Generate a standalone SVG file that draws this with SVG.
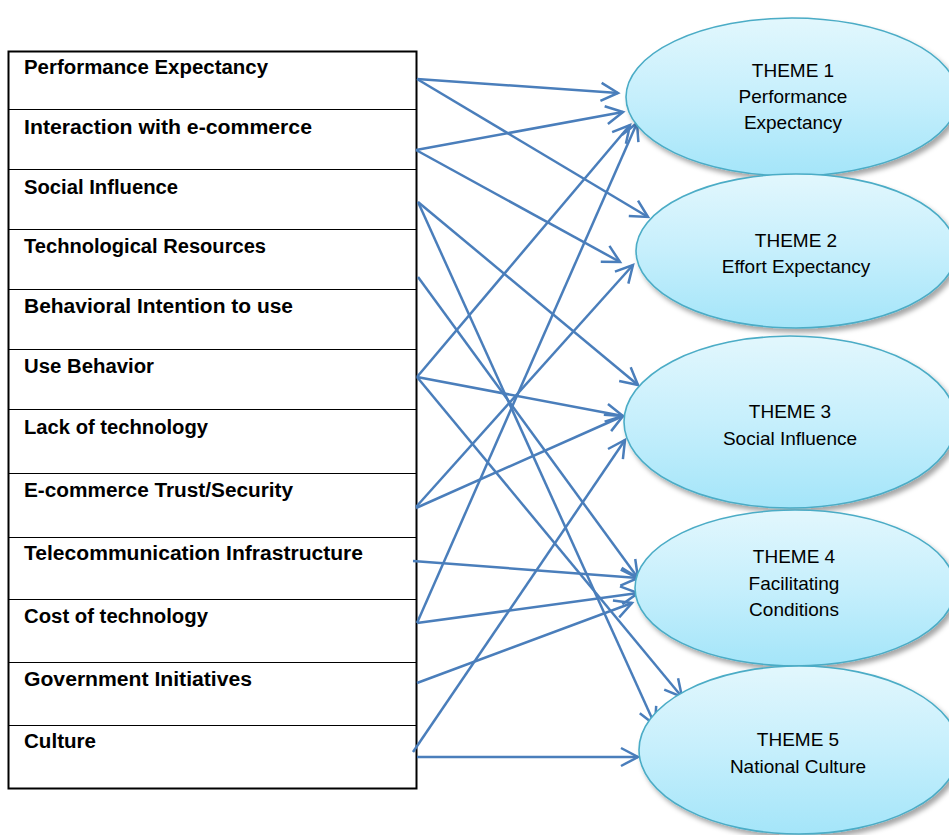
<svg xmlns="http://www.w3.org/2000/svg" width="949" height="835" viewBox="0 0 949 835">
<style>
.lbl{font-family:"Liberation Sans",Arial,sans-serif;font-weight:bold;font-size:20px;fill:#000}
.thm{font-family:"Liberation Sans",Arial,sans-serif;font-size:19px;fill:#000;text-anchor:middle}
.div{stroke:#000;stroke-width:1.2}
.ell{fill:url(#eg);stroke:#4bacc6;stroke-width:1.6;filter:url(#sh)}
.con line{stroke:#4a7ebb;stroke-width:2.5;fill:none;marker-end:url(#ah)}
</style>
<defs>
<linearGradient id="eg" x1="0" y1="0" x2="0" y2="1">
<stop offset="0" stop-color="#e2f7fd"/>
<stop offset="0.5" stop-color="#c6effc"/>
<stop offset="1" stop-color="#a4e5f9"/>
</linearGradient>
<filter id="sh" x="-10%" y="-10%" width="125%" height="130%">
<feDropShadow dx="3" dy="4" stdDeviation="2.5" flood-color="#000" flood-opacity="0.35"/>
</filter>
<marker id="ah" markerUnits="userSpaceOnUse" markerWidth="22" markerHeight="22" viewBox="0 0 22 22" refX="19" refY="11" orient="auto">
<path d="M2,2 L19,11 L2,20" fill="none" stroke="#4a7ebb" stroke-width="2.5"/>
</marker>
</defs>
<rect width="949" height="835" fill="#fff"/>
<g id="factors">
<rect x="8.5" y="51.5" width="408" height="737" fill="#fff" stroke="#000" stroke-width="2"/>
<line class="div" x1="8" y1="109.5" x2="417" y2="109.5"/>
<line class="div" x1="8" y1="169.5" x2="417" y2="169.5"/>
<line class="div" x1="8" y1="229.5" x2="417" y2="229.5"/>
<line class="div" x1="8" y1="289.5" x2="417" y2="289.5"/>
<line class="div" x1="8" y1="349.5" x2="417" y2="349.5"/>
<line class="div" x1="8" y1="409.5" x2="417" y2="409.5"/>
<line class="div" x1="8" y1="473.5" x2="417" y2="473.5"/>
<line class="div" x1="8" y1="537.5" x2="417" y2="537.5"/>
<line class="div" x1="8" y1="599.5" x2="417" y2="599.5"/>
<line class="div" x1="8" y1="662.5" x2="417" y2="662.5"/>
<line class="div" x1="8" y1="725.5" x2="417" y2="725.5"/>
</g>
<g id="f1"><text class="lbl" x="24" y="74" textLength="244" lengthAdjust="spacingAndGlyphs">Performance Expectancy</text></g>
<g id="f2"><text class="lbl" x="24" y="134" textLength="288" lengthAdjust="spacingAndGlyphs">Interaction with e-commerce</text></g>
<g id="f3"><text class="lbl" x="24" y="194" textLength="154" lengthAdjust="spacingAndGlyphs">Social Influence</text></g>
<g id="f4"><text class="lbl" x="24" y="253" textLength="242" lengthAdjust="spacingAndGlyphs">Technological Resources</text></g>
<g id="f5"><text class="lbl" x="24" y="313" textLength="269" lengthAdjust="spacingAndGlyphs">Behavioral Intention to use</text></g>
<g id="f6"><text class="lbl" x="24" y="373" textLength="130" lengthAdjust="spacingAndGlyphs">Use Behavior</text></g>
<g id="f7"><text class="lbl" x="24" y="434" textLength="184" lengthAdjust="spacingAndGlyphs">Lack of technology</text></g>
<g id="f8"><text class="lbl" x="24" y="497" textLength="269" lengthAdjust="spacingAndGlyphs">E-commerce Trust/Security</text></g>
<g id="f9"><text class="lbl" x="24" y="560" textLength="339" lengthAdjust="spacingAndGlyphs">Telecommunication Infrastructure</text></g>
<g id="f10"><text class="lbl" x="24" y="623" textLength="184" lengthAdjust="spacingAndGlyphs">Cost of technology</text></g>
<g id="f11"><text class="lbl" x="24" y="686" textLength="228" lengthAdjust="spacingAndGlyphs">Government Initiatives</text></g>
<g id="f12"><text class="lbl" x="24" y="748" textLength="72" lengthAdjust="spacingAndGlyphs">Culture</text></g>
<g id="connectors" class="con">
<line x1="417" y1="79" x2="618" y2="93"/>
<line x1="417" y1="79" x2="648" y2="217"/>
<line x1="416" y1="150" x2="623" y2="112"/>
<line x1="416" y1="150" x2="620" y2="262"/>
<line x1="418" y1="202" x2="638" y2="385"/>
<line x1="418" y1="202" x2="655" y2="725"/>
<line x1="418" y1="277" x2="638" y2="578"/>
<line x1="417" y1="377" x2="630" y2="125"/>
<line x1="417" y1="377" x2="623" y2="416"/>
<line x1="417" y1="377" x2="682" y2="697"/>
<line x1="416" y1="507" x2="633" y2="265"/>
<line x1="416" y1="508" x2="623" y2="416"/>
<line x1="413" y1="561" x2="638" y2="578"/>
<line x1="417" y1="623" x2="637" y2="123"/>
<line x1="417" y1="623" x2="638" y2="593"/>
<line x1="417" y1="683" x2="632" y2="603"/>
<line x1="413" y1="752" x2="625" y2="440"/>
<line x1="417" y1="757" x2="638" y2="757"/>
</g>
<g id="theme1">
<ellipse class="ell" cx="792" cy="97" rx="166" ry="79"/>
<text class="thm" x="793" y="77">THEME 1</text>
<text class="thm" x="793" y="103">Performance</text>
<text class="thm" x="793" y="129">Expectancy</text>
</g>
<g id="theme2">
<ellipse class="ell" cx="796" cy="251" rx="160" ry="77"/>
<text class="thm" x="796" y="247">THEME 2</text>
<text class="thm" x="796" y="273">Effort Expectancy</text>
</g>
<g id="theme3">
<ellipse class="ell" cx="790" cy="422" rx="166" ry="86"/>
<text class="thm" x="790" y="418">THEME 3</text>
<text class="thm" x="790" y="445">Social Influence</text>
</g>
<g id="theme4">
<ellipse class="ell" cx="795" cy="588" rx="160" ry="78"/>
<text class="thm" x="794" y="563">THEME 4</text>
<text class="thm" x="794" y="590">Facilitating</text>
<text class="thm" x="794" y="616">Conditions</text>
</g>
<g id="theme5">
<ellipse class="ell" cx="799" cy="750" rx="160" ry="84"/>
<text class="thm" x="798" y="746">THEME 5</text>
<text class="thm" x="798" y="773">National Culture</text>
</g>
</svg>
